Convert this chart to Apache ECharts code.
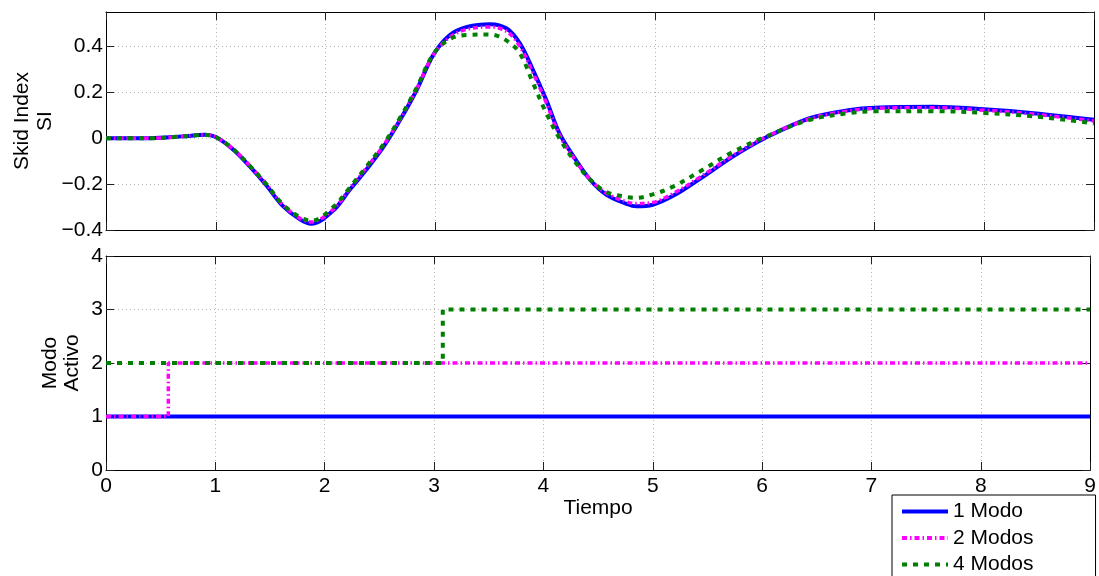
<!DOCTYPE html>
<html><head><meta charset="utf-8">
<script src="https://cdn.jsdelivr.net/npm/echarts@6/dist/echarts.min.js"></script>
<style>html,body{margin:0;padding:0;background:#fff}#c{width:1099px;height:576px}</style>
</head><body><div id="c"></div>
<script>
// ---- data ----
const time = [0, 0.4, 0.7, 0.9, 1.0, 1.16, 1.31, 1.46, 1.61, 1.77, 1.87, 2.07, 2.22, 2.37, 2.53, 2.68, 2.83, 2.98, 3.13, 3.29, 3.5, 3.65, 3.77, 3.89, 4.01, 4.13, 4.26, 4.41, 4.56, 4.74, 4.83, 4.98, 5.17, 5.41, 5.71, 6.0, 6.41, 6.78, 7.0, 7.53, 8.0, 8.45, 9.0];
const si1Modo = [0, 0.0, 0.008, 0.015, 0.005, -0.05, -0.123, -0.205, -0.295, -0.355, -0.373, -0.315, -0.225, -0.138, -0.036, 0.08, 0.21, 0.362, 0.449, 0.485, 0.497, 0.478, 0.413, 0.297, 0.167, 0.022, -0.08, -0.181, -0.247, -0.286, -0.297, -0.29, -0.25, -0.177, -0.08, 0.0, 0.087, 0.123, 0.133, 0.137, 0.126, 0.109, 0.08];
const si2Modos = [0, 0.0, 0.008, 0.015, 0.005, -0.048, -0.12, -0.2, -0.29, -0.35, -0.365, -0.31, -0.22, -0.13, -0.03, 0.085, 0.215, 0.362, 0.44, 0.475, 0.485, 0.465, 0.4, 0.285, 0.155, 0.015, -0.085, -0.18, -0.24, -0.277, -0.285, -0.28, -0.24, -0.17, -0.075, 0.003, 0.085, 0.12, 0.13, 0.133, 0.122, 0.105, 0.075];
const si4Modos = [0, 0.0, 0.008, 0.015, 0.005, -0.048, -0.12, -0.2, -0.288, -0.345, -0.36, -0.3, -0.215, -0.125, -0.025, 0.09, 0.22, 0.365, 0.432, 0.45, 0.452, 0.425, 0.37, 0.24, 0.11, 0.0, -0.095, -0.18, -0.235, -0.256, -0.26, -0.245, -0.21, -0.145, -0.06, 0.005, 0.08, 0.11, 0.117, 0.118, 0.11, 0.095, 0.065];

const modeTime1 = [0, 9];
const mode1Modo = [1, 1];
const modeTime2 = [0, 0.57, 9];
const mode2Modos = [1, 2, 2];
const modeTime4 = [0, 3.08, 9];
const mode4Modos = [2, 3, 3];

const seriesNames = ['1 Modo', '2 Modos', '4 Modos'];
const xTicks = [0, 1, 2, 3, 4, 5, 6, 7, 8, 9];
const siTicks = [-0.4, -0.2, 0, 0.2, 0.4];
const modeTicks = [0, 1, 2, 3, 4];

// ---- chart ----
const FONT = "'Liberation Sans', Arial, Helvetica, sans-serif";
const FS = 21;
const chart = echarts.init(document.getElementById('c'), null, {renderer: 'canvas'});
const pairs = (xs, ys) => xs.map((x, i) => [x, ys[i]]);
const num = v => {
  const r = parseFloat(Number(v).toFixed(2));
  return (r === 0 ? '0' : String(r)).replace('-', '\u2212');
};

const gridLine = {show: true, lineStyle: {color: '#b4b4b4', width: 1, type: [1, 3]}};
const axLine = {show: true, onZero: false, lineStyle: {color: '#000', width: 1}};
const axTick = {show: true, inside: true, length: 8, lineStyle: {color: '#222', width: 1}};

function xAx(grid, pos, labels, split, extra) {
  return Object.assign({
    type: 'value', gridIndex: grid, position: pos,
    min: xTicks[0], max: xTicks[xTicks.length - 1], interval: xTicks[1] - xTicks[0],
    axisLine: axLine, axisTick: axTick,
    axisLabel: {show: labels, color: '#000', fontSize: FS, fontFamily: FONT, margin: 6, formatter: num},
    splitLine: split ? gridLine : {show: false}
  }, extra || {});
}
function yAx(grid, pos, ticks, max, labels, split, extra) {
  return Object.assign({
    type: 'value', gridIndex: grid, position: pos,
    min: ticks[0], max: max, interval: ticks[1] - ticks[0],
    axisLine: axLine, axisTick: axTick,
    axisLabel: {show: labels, color: '#000', fontSize: FS, fontFamily: FONT, margin: 3, formatter: num, showMaxLabel: max === ticks[ticks.length - 1]},
    splitLine: split ? gridLine : {show: false}
  }, extra || {});
}

const colors = ['#0000ff', '#ff00ff', '#008000'];
const styles = [
  {color: colors[0], width: 4, type: 'solid'},
  {color: colors[1], width: 3.5, type: [5, 3, 1.5, 3]},
  {color: colors[2], width: 4, type: [5, 6]}
];
const siData = [si1Modo, si2Modos, si4Modos];
const modeData = [pairs(modeTime1, mode1Modo), pairs(modeTime2, mode2Modos), pairs(modeTime4, mode4Modos)];

const series = [];
seriesNames.forEach((n, i) => {
  series.push({
    name: n, type: 'line', xAxisIndex: 0, yAxisIndex: 0,
    data: pairs(time, siData[i]), smooth: 0.35, symbol: 'none',
    lineStyle: styles[i], itemStyle: {color: colors[i]}, z: 2 + i
  });
});
seriesNames.forEach((n, i) => {
  series.push({
    name: n, type: 'line', xAxisIndex: 2, yAxisIndex: 2,
    data: modeData[i], step: 'end', symbol: 'none',
    lineStyle: styles[i], itemStyle: {color: colors[i]}, z: 2 + i
  });
});

chart.setOption({
  animation: false,
  backgroundColor: '#fff',
  textStyle: {fontFamily: FONT},
  grid: [
    {left: 106, top: 12, width: 988, height: 218},
    {left: 106, top: 256, width: 988, height: 214}
  ],
  xAxis: [
    xAx(0, 'bottom', false, true),
    xAx(0, 'top', false, false),
    xAx(1, 'bottom', true, true, {
      name: 'Tiempo', nameLocation: 'middle', nameGap: 28,
      nameTextStyle: {color: '#000', fontSize: FS, fontFamily: FONT}
    }),
    xAx(1, 'top', false, false)
  ],
  yAxis: [
    yAx(0, 'left', siTicks, 0.55, true, true, {
      name: 'Skid Index\nSI', nameLocation: 'middle', nameRotate: 90, nameGap: 49, nameMoveOverlap: false,
      nameTextStyle: {color: '#000', fontSize: FS, fontFamily: FONT, lineHeight: 23}
    }),
    yAx(0, 'right', siTicks, 0.55, false, false),
    yAx(1, 'left', modeTicks, 4, true, true, {
      name: 'Modo\nActivo', nameLocation: 'middle', nameRotate: 90, nameGap: 23, nameMoveOverlap: false,
      nameTextStyle: {color: '#000', fontSize: FS, fontFamily: FONT, lineHeight: 22}
    }),
    yAx(1, 'right', modeTicks, 4, false, false)
  ],
  legend: {
    data: seriesNames, orient: 'vertical', left: 892, top: 495, height: 100,
    itemWidth: 46, itemHeight: 20, itemGap: 5.5,
    padding: [6, 62, 10, 8],
    borderColor: '#000', borderWidth: 1, borderRadius: 0, backgroundColor: '#fff',
    selectedMode: false,
    lineStyle: {width: 4},
    itemStyle: {color: 'rgba(0,0,0,0)', borderColor: 'rgba(0,0,0,0)', borderWidth: 0, opacity: 0},
    textStyle: {color: '#000', fontSize: FS, fontFamily: FONT}
  },
  series: series
});
</script></body></html>
